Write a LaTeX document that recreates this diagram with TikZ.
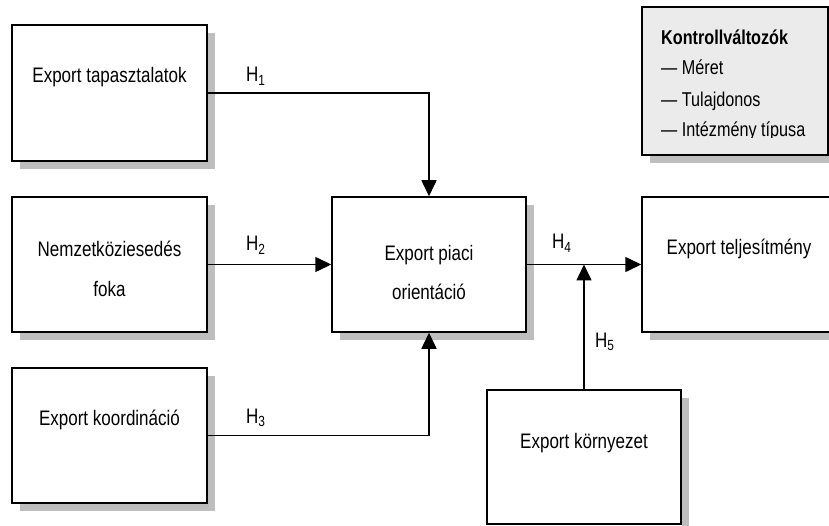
\documentclass[tikz,border=0pt]{standalone}
\usepackage{fontspec}
\setmainfont{Liberation Sans}[FakeStretch=0.81]
\usetikzlibrary{arrows.meta}
\definecolor{boxgray}{RGB}{235,235,235}
\definecolor{shadowgray}{RGB}{190,190,190}
\begin{document}
\begin{tikzpicture}[x=1pt,y=-1pt,
  box/.style={draw=black, line width=1.5pt, fill=white, inner sep=0pt},
  boxshadow/.style={fill=shadowgray, draw=none},
  txt/.style={anchor=base, inner sep=0pt, font=\fontsize{21}{25}\selectfont},
  hlab/.style={anchor=base west, inner sep=0pt, font=\fontsize{21}{25}\selectfont},
  ktxt/.style={anchor=base west, inner sep=0pt, font=\fontsize{20}{24}\selectfont},
  conn/.style={line width=1.6pt},
  arr/.style={conn, -{Triangle[length=16pt,width=15pt]}}]
\useasboundingbox (0,0) rectangle (829,526);
% boxes
\node[box, minimum width=195pt, minimum height=136pt] (b1) at (109.5,93) {};
\node[box, minimum width=195pt, minimum height=135pt] (b2) at (109.5,264.5) {};
\node[box, minimum width=195pt, minimum height=135pt] (b3) at (109.5,435.5) {};
\node[box, minimum width=194pt, minimum height=135pt] (c) at (429,264.5) {};
\begin{scope}
\clip (600,0) rectangle (829,526);
\node[box, minimum width=194pt, minimum height=135pt] (t) at (739,264.5) {};
\end{scope}
\node[box, minimum width=194pt, minimum height=134pt] (k) at (584,457) {};
\node[box, fill=boxgray, minimum width=186pt, minimum height=148pt] (kv) at (735,81) {};
% shadows (right and bottom strips, outside the borders)
\fill[boxshadow] (208,33) rectangle (215,169);
\fill[boxshadow] (20,162) rectangle (215,169);
\fill[boxshadow] (208,205) rectangle (215,340);
\fill[boxshadow] (20,333) rectangle (215,340);
\fill[boxshadow] (208,376) rectangle (215,511);
\fill[boxshadow] (20,504) rectangle (215,511);
\fill[boxshadow] (527,205) rectangle (534,340);
\fill[boxshadow] (340,333) rectangle (534,340);
\fill[boxshadow] (650,333) rectangle (829,340);
\fill[boxshadow] (682,398) rectangle (689,526);
\fill[boxshadow] (650,156) rectangle (829,163);
% texts
\node[txt] (t1) at (109.5,83) {Export tapasztalatok};
\node[txt] (t2a) at (109.5,257) {Nemzetköziesedés};
\node[txt] (t2b) at (109.5,297) {foka};
\node[txt] (t3) at (109.5,425) {Export koordináció};
\node[txt] (tc1) at (429,261) {Export piaci};
\node[txt] (tc2) at (429,300) {orientáció};
\node[txt] (tt) at (739,255) {Export teljesítmény};
\node[txt] (tk) at (584,448) {Export környezet};
% control variables
\node[ktxt, font=\fontsize{20}{24}\selectfont\bfseries] (kh) at (661,45) {Kontrollváltozók};
\node[ktxt] (k1) at (661,75) {— Méret};
\node[ktxt] (k2) at (661,107) {— Tulajdonos};
\begin{scope}
\clip (640,110) rectangle (829,138);
\node[ktxt] (k3) at (661,137) {— Intézmény típusa};
\end{scope}
% connectors
\draw[arr] (b1.east) -| (c.north);
\draw[arr] (b2.east) -- (c.west);
\draw[arr] (b3.east) -| (c.south);
\draw[arr] (c.east) -- (t.west);
\coordinate (m) at (k.north |- c.east);
\draw[arr] (k.north) -- (m);
% hypothesis labels
\node[hlab] (h1) at (246,82) {H\textsubscript{1}};
\node[hlab] (h2) at (246,251) {H\textsubscript{2}};
\node[hlab] (h3) at (246,423) {H\textsubscript{3}};
\node[hlab] (h4) at (552,249) {H\textsubscript{4}};
\node[hlab] (h5) at (595,347) {H\textsubscript{5}};
\end{tikzpicture}
\end{document}
